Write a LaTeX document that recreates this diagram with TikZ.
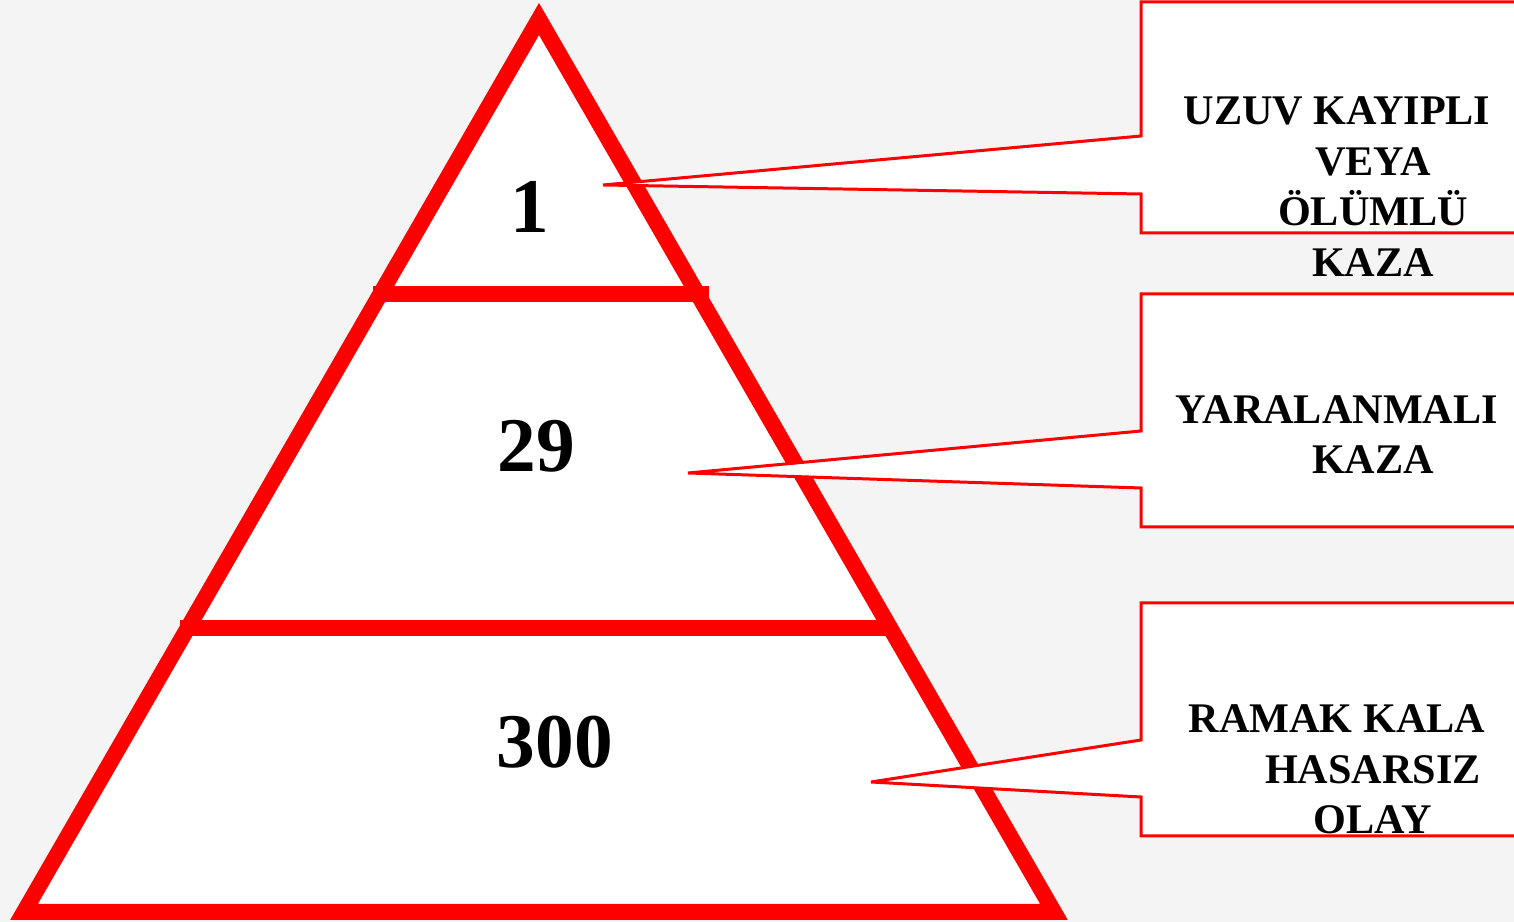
\documentclass[tikz,border=0pt]{standalone}
\usepackage{fontspec}
\setmainfont{Liberation Serif}
\definecolor{bgpaper}{RGB}{244,244,244}
\tikzset{
  pyr/.style={draw=red,fill=white,line width=4.55pt,line join=miter},
  bar/.style={draw=red,line width=4.55pt},
  callout/.style={draw=red,fill=white,line width=0.85pt,line join=miter,miter limit=2},
  num/.style={font=\fontsize{22}{26}\selectfont\bfseries,inner sep=0pt,anchor=base},
  lbl/.style={font=\fontsize{12}{14.5}\selectfont\bfseries,inner sep=0pt,align=center,anchor=base}
}
\begin{document}
\begin{tikzpicture}[x=0.01cm,y=-0.01cm]
        \fill[bgpaper] (0,0) rectangle (1514,922) ;
        \useasboundingbox (0,0) rectangle (1514,922) ;
        % pyramid
        \coordinate (top) at (539,19) ;
        \coordinate (bl) at (24,912) ;
        \coordinate (br) at (1054,912) ;
        \draw[pyr] (top)--(br)--(bl)--cycle ;
        \draw[bar] (373,294)--(709,294) ;
        \draw[bar] (180,628)--(894,628) ;
        \node[num] (n1) at (530,233) {1} ;
        \node[num] (n29) at (536,472) {29} ;
        \node[num] (n300) at (555,768) {300} ;
        % callouts
        \coordinate (tip1) at (603,185) ;
        \coordinate (tip2) at (688,473) ;
        \coordinate (tip3) at (871,782) ;
        \draw[callout] (1141,2)--(1141,136)--(tip1)--(1141,194)--(1141,233)
        --(1530,233)--(1530,2)--cycle ;
        \draw[callout] (1141,294)--(1141,431)--(tip2)--(1141,488)--(1141,527)
        --(1530,527)--(1530,294)--cycle ;
        \draw[callout] (1141,603)--(1141,740)--(tip3)--(1141,797)--(1141,836)
        --(1530,836)--(1530,603)--cycle ;
        % texts (base = last line)
        \node[lbl] (t1) at (1373,277)
        {\hspace*{-20.5pt}UZUV KAYIPLI\\VEYA\\ÖLÜMLÜ\\KAZA} ;
        \node[lbl] (t2) at (1373,474)
        {\hspace*{-20.5pt}YARALANMALI\\KAZA} ;
        \node[lbl] (t3) at (1373,834)
        {\hspace*{-20.5pt}RAMAK KALA\\HASARSIZ\\OLAY} ;
      \end{tikzpicture}
\end{document}
